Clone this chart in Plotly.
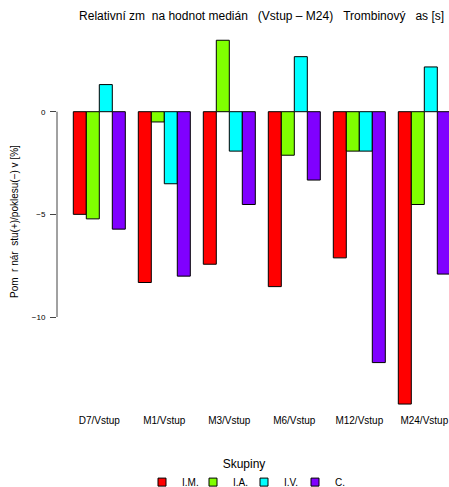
import plotly.graph_objects as go

categories = ["D7/Vstup", "M1/Vstup", "M3/Vstup", "M6/Vstup", "M12/Vstup", "M24/Vstup"]
groups = ["I.M.", "I.A.", "I.V.", "C."]
colors = ["#FF0000", "#80FF00", "#00FFFF", "#8000FF"]

val_IM = [-5.0, -8.32, -7.43, -8.52, -7.12, -14.24]
val_IA = [-5.22, -0.50, 3.48, -2.12, -1.92, -4.52]
val_IV = [1.32, -3.51, -1.92, 2.68, -1.92, 2.18]
val_C = [-5.72, -8.01, -4.52, -3.33, -12.22, -7.91]
series = [val_IM, val_IA, val_IV, val_C]

ytick_vals = [0, -5, -10]
ytick_text = ["0", "\u22125", "\u221210"]

NB = "\u00a0"
title_text = ("Relativní zm" + NB * 2 + "na hodnot medián" + NB * 3 + "(Vstup – M24)" + NB * 3
              + "Trombinový" + NB * 3 + "as [s]")
ytitle_text = "Pom" + NB * 2 + "r nár" + NB * 2 + "stu(+)/poklesu(\u2212) v [%]"

W, H = 449, 487
L, R, T, B = 57, 0, 26, 74
font_family = "Liberation Sans, Arial, Helvetica, sans-serif"

fig = go.Figure()
for name, vals, col in zip(groups, series, colors):
    fig.add_trace(go.Bar(
        x=categories, y=vals, name=name, showlegend=False,
        marker=dict(color=col, line=dict(color="black", width=1)),
    ))
for name, col in zip(groups, colors):
    fig.add_trace(go.Scatter(
        x=[None], y=[None], mode="markers", name=name,
        marker=dict(symbol="square", size=8, color=col, line=dict(color="black", width=1)),
    ))

plot_h = H - T - B
fig.update_layout(
    width=W, height=H,
    margin=dict(l=L, r=R, t=T, b=B, pad=0, autoexpand=False),
    paper_bgcolor="white", plot_bgcolor="white",
    font=dict(family=font_family, color="black"),
    barmode="group", bargap=0.2, bargroupgap=0,
    title=dict(text=title_text, font=dict(size=12, color="black"),
               x=261.6 / W, xref="container", xanchor="center",
               y=1 - 16 / H, yref="container", yanchor="middle", automargin=False),
    xaxis=dict(range=[-0.651, 5.380], showline=False, showgrid=False, zeroline=False,
               ticks="", tickfont=dict(size=10), automargin=False),
    yaxis=dict(range=[-14.676, 4.174], showline=False, showgrid=False, zeroline=False,
               tickvals=ytick_vals, ticktext=ytick_text, ticks="outside", ticklen=6,
               tickcolor="#444", tickwidth=1, tickfont=dict(size=8), ticklabelstandoff=3,
               automargin=False),
    legend=dict(orientation="h", x=(244 - L) / (W - L - R), xanchor="center",
                y=(H - B - 452) / plot_h, yanchor="top",
                entrywidth=6, entrywidthmode="pixels",
                title=dict(text="Skupiny", side="top center", font=dict(size=12)),
                font=dict(size=10), bgcolor="rgba(0,0,0,0)"),
    showlegend=True,
)
fig.add_shape(type="line", xref="paper", yref="y", x0=0, x1=0,
              y0=min(ytick_vals), y1=max(ytick_vals), line=dict(color="#444", width=1))
fig.add_annotation(text=ytitle_text, xref="paper", yref="paper",
                   x=(14 - L) / (W - L - R), y=(H - B - 222) / plot_h,
                   xanchor="center", yanchor="middle", textangle=-90,
                   showarrow=False, font=dict(size=10))

fig.write_html("out.html", config={"displayModeBar": False},
               post_script="document.body.style.margin='0';document.body.style.padding='0';"
                           "document.documentElement.style.overflow='hidden';")
